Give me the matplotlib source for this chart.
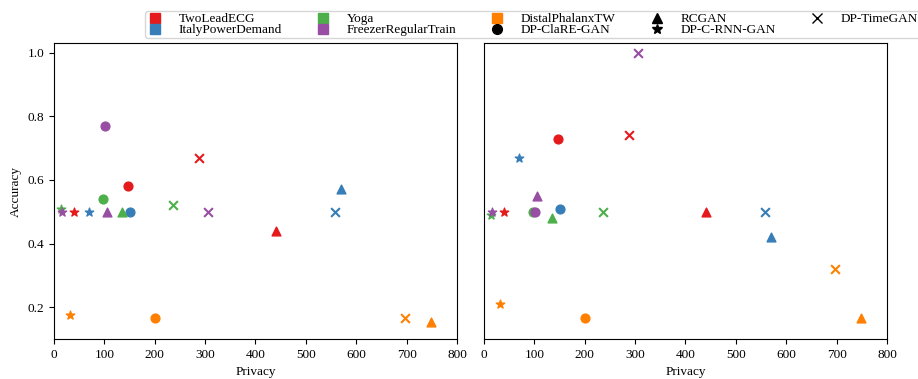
import matplotlib
matplotlib.use('Agg')
import matplotlib.pyplot as plt
from matplotlib.lines import Line2D

plt.rcParams['font.family'] = ['Liberation Serif', 'DejaVu Serif']
plt.rcParams['font.size'] = 9.5

# ---------------------------------------------------------------
# Data: privacy (x) and accuracy (y) per dataset and method
# ---------------------------------------------------------------
datasets = ['TwoLeadECG', 'ItalyPowerDemand', 'Yoga',
            'FreezerRegularTrain', 'DistalPhalanxTW']
colors = ['#e41a1c', '#377eb8', '#4daf4a', '#984ea3', '#ff7f00']

methods = ['DP-ClaRE-GAN', 'RCGAN', 'DP-C-RNN-GAN', 'DP-TimeGAN']
markers = ['o', '^', '*', 'x']

# order of columns: DP-ClaRE-GAN, RCGAN, DP-C-RNN-GAN, DP-TimeGAN
privacy = {
    'TwoLeadECG':          [147, 441, 40, 288],
    'ItalyPowerDemand':    [150, 570, 70, 557],
    'Yoga':                [98, 136, 14, 236],
    'FreezerRegularTrain': [102, 106, 15, 305],
    'DistalPhalanxTW':     [201, 748, 31, 697],
}

acc_left = {
    'TwoLeadECG':          [0.58, 0.44, 0.50, 0.67],
    'ItalyPowerDemand':    [0.50, 0.57, 0.50, 0.50],
    'Yoga':                [0.54, 0.50, 0.51, 0.52],
    'FreezerRegularTrain': [0.77, 0.50, 0.50, 0.50],
    'DistalPhalanxTW':     [0.165, 0.155, 0.175, 0.165],
}

acc_right = {
    'TwoLeadECG':          [0.73, 0.50, 0.50, 0.74],
    'ItalyPowerDemand':    [0.51, 0.42, 0.67, 0.50],
    'Yoga':                [0.50, 0.48, 0.49, 0.50],
    'FreezerRegularTrain': [0.50, 0.55, 0.50, 1.00],
    'DistalPhalanxTW':     [0.165, 0.165, 0.21, 0.32],
}

# ---------------------------------------------------------------
# Figure
# ---------------------------------------------------------------
fig = plt.figure(figsize=(9.18, 3.79), dpi=100)
ax1 = fig.add_axes([0.0588, 0.1055, 0.439, 0.781])
ax2 = fig.add_axes([0.5272, 0.1055, 0.439, 0.781])

for ax, acc in [(ax1, acc_left), (ax2, acc_right)]:
    for ds, col in zip(datasets, colors):
        for k, (m, mk) in enumerate(zip(methods, markers)):
            ax.scatter(privacy[ds][k], acc[ds][k], color=col, marker=mk,
                       s=40, zorder=3)
    ax.set_xlim(0, 800)
    ax.set_ylim(0.1, 1.03)
    ax.set_xticks(range(0, 801, 100))
    ax.set_xlabel('Privacy')

ax1.set_yticks([0.2, 0.4, 0.6, 0.8, 1.0])
ax1.set_ylabel('Accuracy')
ax2.set_yticks([])

# ---------------------------------------------------------------
# Legend: colour squares for datasets, black markers for methods
# ---------------------------------------------------------------
handles = [Line2D([], [], ls='none', marker='s', color=c, markersize=7)
           for c in colors]
handles += [Line2D([], [], ls='none', marker=mk, color='black',
                   markersize=7 if mk != 'x' else 6.5)
            for mk in markers]
labels = datasets + methods

fig.legend(handles, labels, loc='upper left',
           bbox_to_anchor=(145 / 918, 1 - 11 / 379),
           ncol=5, handlelength=1.2, handletextpad=1.2,
           columnspacing=2.5, borderpad=0.15, labelspacing=-0.1,
           borderaxespad=0, fancybox=True)

fig.savefig('out.png', dpi=100)
